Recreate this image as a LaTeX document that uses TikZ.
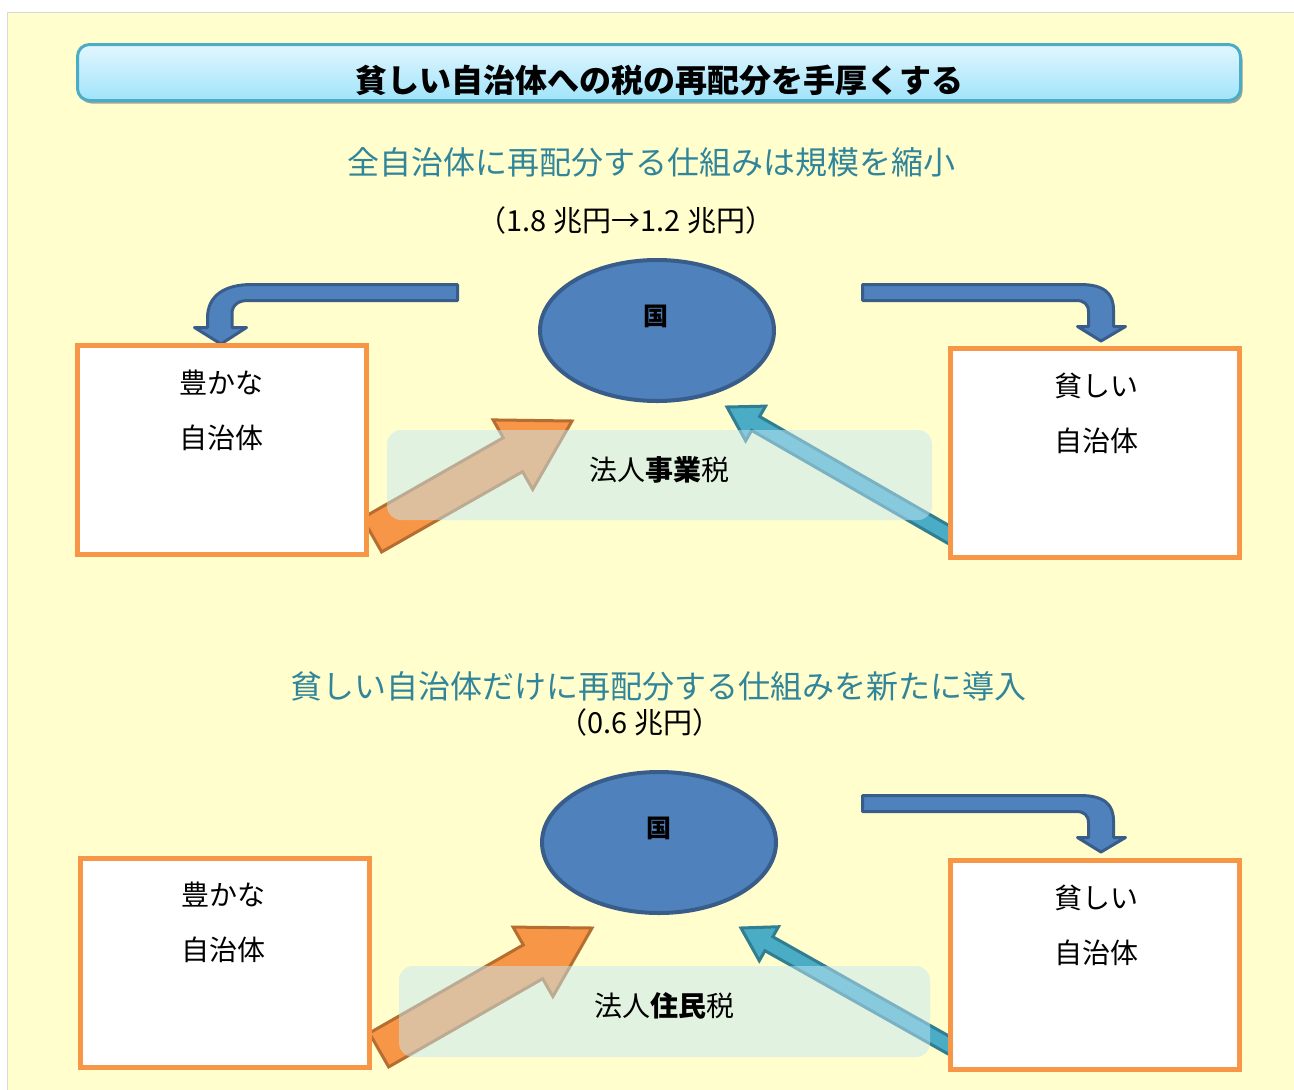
\documentclass[tikz,border=0pt]{standalone}
\usepackage{fontspec}
\setmainfont{Noto Sans CJK JP}
\usetikzlibrary{shapes,calc,shadows}
\definecolor{haikei}{RGB}{255,254,204}
\definecolor{midasiwaku}{RGB}{75,172,198}
\definecolor{midasiue}{RGB}{226,246,255}
\definecolor{midasisita}{RGB}{160,228,250}
\definecolor{aomidori}{RGB}{49,133,155}
\definecolor{kuninuri}{RGB}{79,129,189}
\definecolor{kuniwaku}{RGB}{56,93,138}
\definecolor{daidai}{RGB}{247,150,70}
\definecolor{daidaiwaku}{RGB}{182,109,49}
\definecolor{mizuiro}{RGB}{75,172,198}
\definecolor{mizuirowaku}{RGB}{49,125,146}
\definecolor{usumidori}{RGB}{197,232,244}
\tikzset{
  midasi/.style={draw=midasiwaku,line width=3pt,rounded corners=12pt,top color=midasiue,bottom color=midasisita,minimum width=1163pt,minimum height=56pt,inner sep=0pt,drop shadow={shadow xshift=2pt,shadow yshift=-3pt,fill=black!45,opacity=.8}},
  midasimoji/.style={inner sep=0pt,font=\fontsize{32}{36}\selectfont\bfseries},
  komidasi/.style={inner sep=0pt,text=aomidori,font=\fontsize{32}{36}\selectfont},
  kingaku/.style={inner sep=0pt,font=\fontsize{29}{32}\selectfont},
  kuni/.style={draw=kuniwaku,fill=kuninuri,line width=4pt,ellipse,minimum width=234pt,minimum height=141pt,inner sep=0pt},
  kunimoji/.style={inner sep=0pt,font=\fontsize{25}{27}\selectfont\bfseries},
  jititai/.style={draw=daidai,fill=white,line width=5pt,minimum width=289pt,minimum height=209pt,inner sep=0pt},
  moji/.style={inner sep=0pt,font=\fontsize{28}{30}\selectfont},
  zei/.style={fill=usumidori,fill opacity=.5,rounded corners=14pt,inner sep=0pt},
  zeimoji/.style={inner sep=0pt,font=\fontsize{28}{30}\selectfont},
  magariya/.style={draw=kuniwaku,fill=kuninuri,line width=3pt,line join=round},
  daidaiya/.style={draw=daidaiwaku,fill=daidai,line width=3pt,line join=miter},
  mizuiroya/.style={draw=mizuirowaku,fill=mizuiro,line width=3pt,line join=miter}
}
\newcommand\yajirushi[6]{%
  \coordinate(yb)at($(#3)!#6!(#2)$);
  \draw[#1]($(#2)!#4!90:(#3)$)--($(yb)!#4!90:(#3)$)--($(yb)!#5!90:(#3)$)--(#3)
    --($(yb)!#5!-90:(#3)$)--($(yb)!#4!-90:(#3)$)--($(#2)!#4!-90:(#3)$)--cycle;}
\begin{document}
\begin{tikzpicture}[x=1pt,y=-1pt]
  \useasboundingbox(0,0)rectangle(1294,1090);
  \fill[white](0,0)rectangle(1294,1090);
  \fill[haikei](7.5,12)rectangle(1294,1090);
  \draw[black!15,line width=1pt](7.5,1090)--(7.5,12)--(1294,12);

  \node(mi)at(659,72.5)[midasi]{};
  \node(mit)at(659,80)[midasimoji]{貧しい自治体への税の再配分を手厚くする};
  \node(s1)at(651,162)[komidasi]{全自治体に再配分する仕組みは規模を縮小};
  \node(g1)at(626,220)[kingaku]{（1.8 兆円→1.2 兆円）};
  \node(s2)at(658.5,686)[komidasi]{貧しい自治体だけに再配分する仕組みを新たに導入};
  \node(g2)at(640,722)[kingaku]{（0.6 兆円）};

  \node(k1)at(657,330.5)[kuni]{};
  \node(k1t)at(656,316)[kunimoji]{国};
  \node(k2)at(659,842.5)[kuni]{};
  \node(k2t)at(659,828)[kunimoji]{国};

  \draw[magariya](457.5,284.5)--(252,284.5)..controls(224,284.5)and(207.5,296)..(207.5,318)--(207.5,327.5)
    --(194.5,327.5)--(221,344)--(246.5,327.5)--(232,327.5)--(232,314)..controls(232,305)and(238,300.5)..(248,300.5)
    --(457.5,300.5)--cycle;
  \draw[magariya](862.5,284.5)--(1080,284.5)..controls(1105,284.5)and(1113.5,294)..(1113.5,310)--(1113.5,326.5)
    --(1125.5,326.5)--(1101,341)--(1077.5,326.5)--(1088.5,326.5)--(1088.5,312)..controls(1088.5,304)and(1084,300.5)..(1076,300.5)
    --(862.5,300.5)--cycle;
  \draw[magariya](862.5,795.5)--(1080,795.5)..controls(1105,795.5)and(1113.5,805)..(1113.5,821)--(1113.5,837.5)
    --(1125.5,837.5)--(1101,852)--(1077.5,837.5)--(1088.5,837.5)--(1088.5,823)..controls(1088.5,815)and(1084,811.5)..(1076,811.5)
    --(862.5,811.5)--cycle;

  \coordinate(o1s)at(372,535);
  \coordinate(o1e)at(572,421);
  \coordinate(a1s)at(965,544);
  \coordinate(a1e)at(727,407);
  \coordinate(o2s)at(379,1050);
  \coordinate(o2e)at(592,928);
  \coordinate(a2s)at(968,1056);
  \coordinate(a2e)at(741,928);
  \yajirushi{daidaiya}{o1s}{o1e}{19.5pt}{40pt}{68pt}
  \yajirushi{mizuiroya}{a1s}{a1e}{8pt}{20pt}{33pt}
  \yajirushi{daidaiya}{o2s}{o2e}{19.5pt}{40pt}{68pt}
  \yajirushi{mizuiroya}{a2s}{a2e}{8pt}{19.5pt}{32pt}

  \node(y1)at(222,449.5)[jititai]{};
  \node(y1a)at(221,383)[moji]{豊かな};
  \node(y1b)at(221,438)[moji]{自治体};
  \node(m1)at(1095,453)[jititai]{};
  \node(m1a)at(1096,386)[moji]{貧しい};
  \node(m1b)at(1096,441)[moji]{自治体};
  \node(y2)at(224.5,963)[jititai]{};
  \node(y2a)at(223,895)[moji]{豊かな};
  \node(y2b)at(223,950)[moji]{自治体};
  \node(m2)at(1095,964.5)[jititai]{};
  \node(m2a)at(1096,898)[moji]{貧しい};
  \node(m2b)at(1096,953)[moji]{自治体};

  \node(z1)at(659.5,475)[zei,minimum width=545pt,minimum height=90pt]{};
  \node(z1t)at(659,470)[zeimoji]{法人{\bfseries 事業}税};
  \node(z2)at(664.5,1011.5)[zei,minimum width=531pt,minimum height=91pt]{};
  \node(z2t)at(664,1006)[zeimoji]{法人{\bfseries 住民}税};
\end{tikzpicture}
\end{document}
